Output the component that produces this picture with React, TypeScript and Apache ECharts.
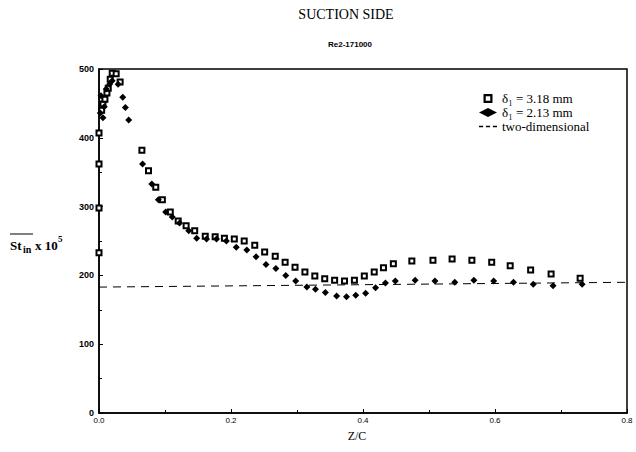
import React, { useEffect, useRef } from "react";
import * as echarts from "echarts";

const xTicks = [0, 0.2, 0.4, 0.6, 0.8];
const yTicks = [0, 100, 200, 300, 400, 500];

const seriesNames = ["δ₁ = 3.18 mm", "δ₁ = 2.13 mm", "two-dimensional"];

// δ1 = 3.18 mm (open squares): [Z/C, St x 10^5]
const squares: [number, number][] = [
  [0.0, 233], [0.0, 298], [0.0, 362], [0.0, 407], [0.004, 440], [0.006, 449],
  [0.009, 456], [0.012, 465], [0.014, 472], [0.017, 485], [0.02, 494], [0.026, 493],
  [0.032, 481], [0.065, 382], [0.075, 352], [0.086, 328], [0.096, 310], [0.108, 292],
  [0.12, 279], [0.132, 272], [0.145, 265], [0.161, 257], [0.176, 256], [0.19, 254],
  [0.205, 253], [0.22, 250], [0.236, 244], [0.251, 234], [0.267, 228], [0.282, 219],
  [0.297, 212], [0.312, 205], [0.327, 199], [0.342, 195], [0.357, 193], [0.372, 192],
  [0.387, 193], [0.402, 199], [0.417, 205], [0.431, 211], [0.446, 217], [0.474, 221],
  [0.506, 222], [0.535, 224], [0.565, 222], [0.595, 219], [0.623, 214], [0.654, 208],
  [0.685, 202], [0.729, 196],
];

// δ1 = 2.13 mm (filled diamonds)
const diamonds: [number, number][] = [
  [0.002, 436], [0.003, 461], [0.006, 429], [0.008, 445], [0.011, 471], [0.016, 478],
  [0.02, 483], [0.029, 478], [0.036, 459], [0.04, 444], [0.045, 426], [0.066, 362],
  [0.08, 333], [0.09, 310], [0.101, 292], [0.111, 285], [0.122, 276], [0.136, 265],
  [0.148, 254], [0.163, 253], [0.178, 253], [0.193, 250], [0.208, 241], [0.224, 237],
  [0.238, 227], [0.253, 216], [0.268, 210], [0.283, 200], [0.298, 192], [0.315, 183],
  [0.328, 180], [0.343, 175], [0.36, 170], [0.375, 169], [0.389, 171], [0.404, 174],
  [0.419, 182], [0.434, 189], [0.449, 192], [0.479, 193], [0.509, 192], [0.539, 190],
  [0.568, 193], [0.598, 192], [0.628, 190], [0.658, 187], [0.688, 185], [0.732, 187],
];

// two-dimensional reference (dashed)
const twoDim: [number, number][] = [
  [0.0, 183], [0.8, 190],
];

const SERIF = "'Liberation Serif', 'DejaVu Serif', serif";
const SANS = "'Liberation Sans', 'DejaVu Sans', sans-serif";

export default function App() {
  const ref = useRef<HTMLDivElement>(null);
  useEffect(() => {
    if (!ref.current) return;
    const chart = echarts.init(ref.current, undefined, { renderer: "svg" });
    const lbl = (text: string, x: number, y: number, size: number) => ({
      type: "text", x, y,
      style: {
        text, fontFamily: SERIF, fontSize: size, fontWeight: "bold", fill: "#000",
        textVerticalAlign: "middle", verticalAlign: "middle",
      },
    });
    chart.setOption({
      animation: false,
      backgroundColor: "#fff",
      grid: {
        left: 99, right: 9, top: 69, bottom: 39,
        show: true, borderColor: "#000", borderWidth: 1.5,
      },
      title: [
        {
          text: "SUCTION SIDE", left: 346, top: 7, textAlign: "center", padding: 0,
          textStyle: { fontFamily: SERIF, fontSize: 14, fontWeight: "normal", color: "#000" },
        },
        {
          text: "Re2-171000", left: 350, top: 40, textAlign: "center", padding: 0,
          textStyle: { fontFamily: SANS, fontSize: 8, fontWeight: "bold", color: "#000" },
        },
        {
          text: "Z/C", left: 357, top: 430, textAlign: "center", padding: 0,
          textStyle: { fontFamily: SERIF, fontSize: 12, fontWeight: "normal", color: "#000" },
        },
      ],
      legend: {
        orient: "vertical", left: 474, top: 87, itemWidth: 18, itemHeight: 9, itemGap: 1,
        textStyle: { fontFamily: SERIF, fontSize: 13, color: "#000" },
        data: [
          { name: seriesNames[0], icon: "path://M0,0H10V10H0Z M2.5,2.5V7.5H7.5V2.5Z", itemStyle: { color: "#000", borderWidth: 0 } },
          { name: seriesNames[1], icon: "diamond", itemStyle: { color: "#000" } },
          { name: seriesNames[2], icon: "path://M0,0H3V1H0Z M5,0H8V1H5Z M10,0H13V1H10Z", itemStyle: { color: "#000" } },
        ],
      },
      xAxis: {
        type: "value", min: xTicks[0], max: xTicks[xTicks.length - 1], interval: 0.2,
        axisLine: { lineStyle: { color: "#000", width: 1.5 } },
        axisTick: { inside: true, length: 4, lineStyle: { color: "#000" } },
        minorTick: { show: true, splitNumber: 2, length: 3, lineStyle: { color: "#000" } },
        splitLine: { show: false },
        axisLabel: {
          formatter: (v: number) => v.toFixed(1),
          fontFamily: SANS, fontSize: 8, color: "#000", margin: 3,
          showMaxLabel: true,
        },
      },
      yAxis: {
        type: "value", min: yTicks[0], max: yTicks[yTicks.length - 1], interval: 100,
        axisLine: { show: true, lineStyle: { color: "#000", width: 1.5 } },
        axisTick: { show: true, inside: true, length: 4, lineStyle: { color: "#000" } },
        minorTick: { show: true, splitNumber: 2, length: 3, lineStyle: { color: "#000" } },
        splitLine: { show: false },
        axisLabel: { fontFamily: SANS, fontSize: 9, fontWeight: "bold", color: "#000", margin: 5 },
      },
      graphic: [
        lbl("St", 10, 245, 13),
        lbl("in", 23, 249, 10),
        lbl("x 10", 35, 245, 13),
        lbl("5", 58, 239, 9),
        {
          type: "line", shape: { x1: 10, y1: 234, x2: 33, y2: 234 },
          style: { stroke: "#000", lineWidth: 1 },
        },
      ],
      series: [
        {
          name: seriesNames[0], type: "scatter", data: squares,
          symbol: "rect", symbolSize: 5,
          itemStyle: { color: "#fff", borderColor: "#000", borderWidth: 2, opacity: 1 },
          z: 3,
        },
        {
          name: seriesNames[1], type: "scatter", data: diamonds,
          symbol: "diamond", symbolSize: 7,
          itemStyle: { color: "#000", opacity: 1 },
          z: 4,
        },
        {
          name: seriesNames[2], type: "line", data: twoDim, symbol: "none",
          lineStyle: { color: "#000", width: 1, type: [8, 6] },
          z: 2,
        },
      ],
    });
    return () => chart.dispose();
  }, []);
  return <div ref={ref} style={{ position: "fixed", left: 0, top: 0, width: 636, height: 452 }} />;
}
